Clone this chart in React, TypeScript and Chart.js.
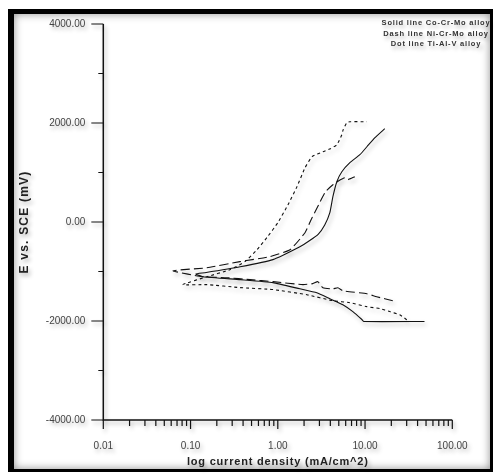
import React, { useEffect, useRef } from 'react';
import { Chart, registerables } from 'chart.js';

Chart.register(...registerables);

// ---- axis ticks / texts ----
const xTickValues = [0.01, 0.1, 1, 10, 100];
const xMinorMultipliers = [2, 3, 4, 5, 6, 7, 8, 9];
const yTickValues = [-4000, -2000, 0, 2000, 4000];
const yMinorTickValues = [-3000, -1000, 1000, 3000];
const xTitle = 'log current density (mA/cm^2)';
const yTitle = 'E vs. SCE (mV)';
const legendLines = ['Solid line Co-Cr-Mo alloy', 'Dash line Ni-Cr-Mo alloy', 'Dot line Ti-Al-V alloy'];

// ---- series: Co-Cr-Mo (solid) ----
const coCrMoCurrent = [48, 9.7, 9.2, 7.25, 5.57, 3.95, 2.8, 1.79, 0.88, 0.37, 0.139, 0.115, 0.146, 0.37, 0.88, 1.79, 2.3, 2.9, 3.45, 3.95, 4.28, 4.75, 5.42, 6.7, 8.73, 10.5, 12.9, 16.8];
const coCrMoPotential = [-2010, -2010, -1970, -1810, -1670, -1550, -1430, -1350, -1225, -1165, -1105, -1050, -1025, -905, -760, -500, -380, -250, -60, 188, 511, 814, 1016, 1198, 1360, 1520, 1700, 1885];

// ---- series: Ni-Cr-Mo (dash) ----
const niCrMoCurrent = [20.8, 13.6, 10.5, 5.57, 4.88, 4.28, 3.29, 2.88, 2.52, 1.94, 0.88, 0.48, 0.263, 0.136, 0.063, 0.154, 0.368, 0.81, 1.38, 2.05, 2.47, 2.94, 3.52, 4.28, 5.0, 5.87, 6.36, 7.63];
const niCrMoPotential = [-1590, -1510, -1450, -1390, -1330, -1350, -1330, -1205, -1245, -1265, -1205, -1165, -1125, -1105, -985, -925, -800, -700, -560, -216, 87, 350, 612, 753, 834, 895, 855, 915];

// ---- series: Ti-Al-V (dot) ----
const tiAlVCurrent = [30.1, 25.0, 19.2, 14.8, 10.5, 6.7, 4.28, 2.16, 0.88, 0.368, 0.154, 0.082, 0.154, 0.282, 0.42, 0.577, 0.75, 1.0, 1.31, 1.66, 2.05, 2.47, 3.29, 4.0, 4.75, 5.42, 5.6, 6.2, 6.7, 10.5];
const tiAlVPotential = [-1975, -1875, -1810, -1750, -1710, -1630, -1590, -1470, -1365, -1325, -1265, -1265, -1105, -965, -800, -560, -315, -15, 350, 715, 1095, 1320, 1420, 1480, 1560, 1763, 1860, 2010, 2026, 2026];

const FONT = '"Liberation Sans", Arial, sans-serif';

const zip = (xs: number[], ys: number[]) => xs.map((x, i) => ({ x, y: ys[i] }));

const decorPlugin = {
  id: 'decor',
  beforeDraw(chart: any) {
    const ctx = chart.ctx;
    ctx.shadowColor = 'rgba(0,0,0,0.3)';
    ctx.shadowBlur = 4;
    ctx.shadowOffsetX = 2;
    ctx.shadowOffsetY = 3;
  },
  beforeDatasetsDraw(chart: any) {
    const ctx = chart.ctx;
    const xs = chart.scales.x;
    const ys = chart.scales.y;
    const { left, right, top, bottom } = chart.chartArea;
    ctx.save();
    ctx.strokeStyle = '#111';
    ctx.lineWidth = 1.5;
    ctx.beginPath();
    ctx.moveTo(left, top);
    ctx.lineTo(left, bottom);
    ctx.lineTo(right, bottom);
    ctx.stroke();
    ctx.lineWidth = 1.2;
    ctx.beginPath();
    yTickValues.forEach((v) => {
      const p = ys.getPixelForValue(v);
      ctx.moveTo(left - 12, p);
      ctx.lineTo(left, p);
    });
    yMinorTickValues.forEach((v) => {
      const p = ys.getPixelForValue(v);
      ctx.moveTo(left - 5, p);
      ctx.lineTo(left, p);
    });
    xTickValues.forEach((v, i) => {
      const p = xs.getPixelForValue(v);
      ctx.moveTo(p, bottom);
      ctx.lineTo(p, bottom + 9);
      if (i < xTickValues.length - 1) {
        xMinorMultipliers.forEach((m) => {
          const q = xs.getPixelForValue(v * m);
          ctx.moveTo(q, bottom);
          ctx.lineTo(q, bottom + 6);
        });
      }
    });
    ctx.stroke();
    ctx.restore();
  },
  afterDraw(chart: any) {
    const ctx = chart.ctx;
    const { left, right, top, bottom } = chart.chartArea;
    ctx.save();
    ctx.fillStyle = '#222';
    // x title
    ctx.font = `bold 11px ${FONT}`;
    (ctx as any).letterSpacing = '0.8px';
    ctx.textAlign = 'center';
    ctx.textBaseline = 'middle';
    ctx.fillText(xTitle, (left + right) / 2, 462);
    // y title
    ctx.save();
    ctx.translate(25, (top + bottom) / 2);
    ctx.rotate(-Math.PI / 2);
    ctx.font = `bold 12px ${FONT}`;
    (ctx as any).letterSpacing = '1.2px';
    ctx.fillText(yTitle, 0, 0);
    ctx.restore();
    // legend notes
    ctx.font = `bold 7.5px ${FONT}`;
    (ctx as any).letterSpacing = '0.8px';
    ctx.fillStyle = '#333';
    legendLines.forEach((t, i) => {
      ctx.fillText(t, 436, 23 + i * 10.5);
    });
    ctx.restore();
    ctx.shadowColor = 'rgba(0,0,0,0)';
    ctx.shadowBlur = 0;
    ctx.shadowOffsetX = 0;
    ctx.shadowOffsetY = 0;
  },
};

export default function App() {
  const canvasRef = useRef<HTMLCanvasElement | null>(null);

  useEffect(() => {
    if (!canvasRef.current) return;
    const lineBase = {
      borderColor: '#111',
      borderWidth: 1.1,
      pointRadius: 0,
      showLine: true,
      tension: 0.15,
      fill: false,
    };
    const chart = new Chart(canvasRef.current, {
      type: 'scatter',
      data: {
        datasets: [
          { ...lineBase, label: 'Co-Cr-Mo', data: zip(coCrMoCurrent, coCrMoPotential) },
          { ...lineBase, label: 'Ni-Cr-Mo', data: zip(niCrMoCurrent, niCrMoPotential), borderDash: [9, 4] },
          { ...lineBase, label: 'Ti-Al-V', data: zip(tiAlVCurrent, tiAlVPotential), borderDash: [3, 3] },
        ],
      },
      options: {
        animation: false,
        responsive: false,
        devicePixelRatio: 1,
        layout: { padding: { left: 0, top: 24, right: 42.7, bottom: 0 } },
        plugins: { legend: { display: false }, tooltip: { enabled: false } },
        scales: {
          x: {
            type: 'logarithmic',
            min: 0.01,
            max: 100,
            position: 'bottom',
            grid: { display: false, drawTicks: false },
            border: { display: false },
            ticks: {
              autoSkip: false,
              maxRotation: 0,
              padding: 20.7,
              color: '#444',
              font: { family: FONT, size: 10 },
              callback: (v: any) => Number(v).toFixed(2),
            },
            afterBuildTicks: (s: any) => {
              s.ticks = xTickValues.map((value) => ({ value }));
            },
            afterFit: (s: any) => {
              s.height = 55;
            },
          },
          y: {
            type: 'linear',
            min: -4000,
            max: 4000,
            position: 'left',
            grid: { display: false, drawTicks: false },
            border: { display: false },
            ticks: {
              padding: 18,
              color: '#444',
              font: { family: FONT, size: 10 },
              callback: (v: any) => Number(v).toFixed(2),
            },
            afterBuildTicks: (s: any) => {
              s.ticks = yTickValues.map((value) => ({ value }));
            },
            afterFit: (s: any) => {
              s.width = 103.3;
            },
          },
        },
      },
      plugins: [decorPlugin],
    });
    return () => chart.destroy();
  }, []);

  return (
    <div style={{ position: 'absolute', left: 0, top: 0, width: 495, height: 475, background: '#fff' }}>
      <div
        style={{
          position: 'absolute',
          left: 8,
          top: 9,
          width: 485,
          height: 463,
          boxSizing: 'border-box',
          borderStyle: 'solid',
          borderColor: '#000',
          borderWidth: '5px 3px 3px 6px',
          boxShadow: 'inset 0 0 8px rgba(0,0,0,0.45)',
        }}
      />
      <canvas
        ref={canvasRef}
        width={495}
        height={475}
        style={{ position: 'absolute', left: 0, top: 0, width: 495, height: 475, zIndex: 1 }}
      />
    </div>
  );
}
